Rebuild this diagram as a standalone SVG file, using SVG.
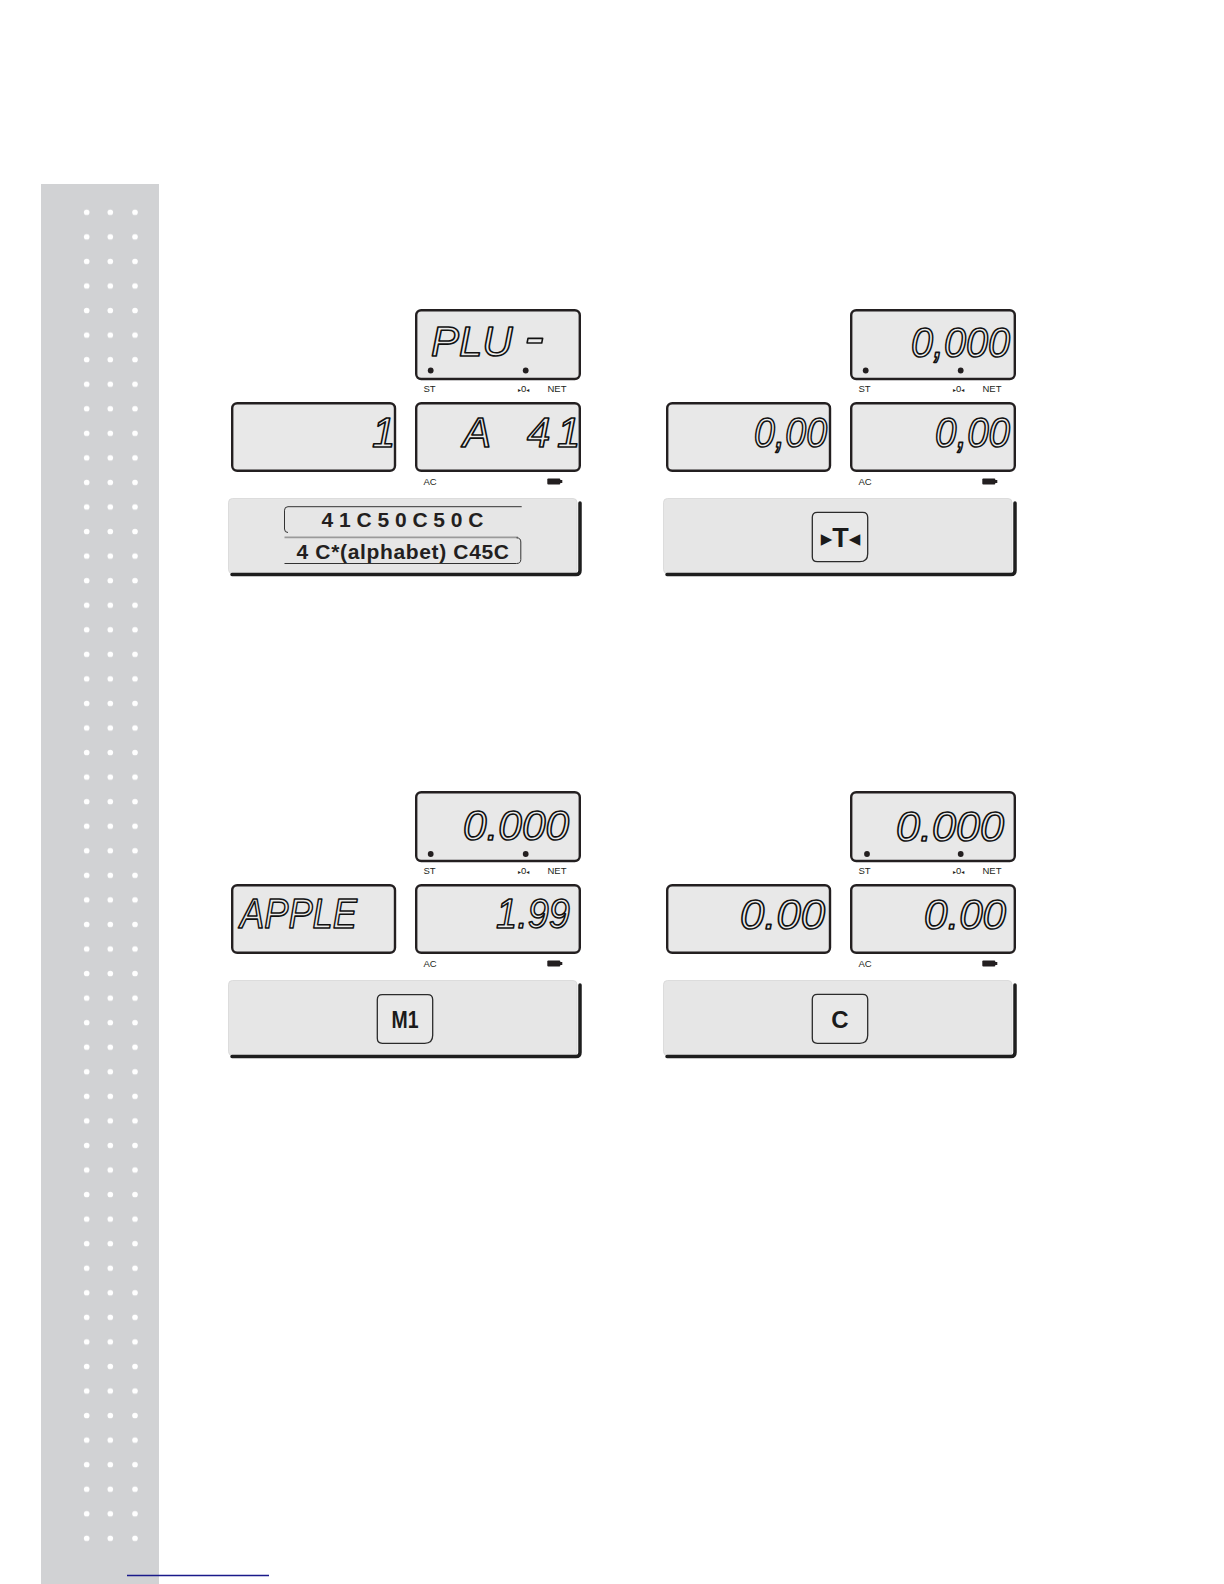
<svg xmlns="http://www.w3.org/2000/svg" width="1224" height="1584" viewBox="0 0 1224 1584">
<style>
.lcd{fill:#e8e8e8;stroke:#231f20;stroke-width:2.4}
.pin{fill:#231f20}
.lbl{font-family:"Liberation Sans",Arial,sans-serif;font-size:9.5px;fill:#231f20}
.seg{font-family:"Liberation Sans",Arial,sans-serif;font-style:italic;font-size:42px;fill:#ececec;stroke:#111111;stroke-width:1.6;stroke-linejoin:round}
.keypad{fill:#e6e6e6;stroke:#d6d6d6;stroke-width:0.8}
.shadow{fill:none;stroke:#1e1e1e;stroke-width:3.5;stroke-linecap:round;stroke-linejoin:round}
.btn{fill:#e8e8e8;stroke:#2b2b2b;stroke-width:1.3}
.key{font-family:"Liberation Sans",Arial,sans-serif;font-weight:bold;fill:#1a1a1a;text-anchor:middle}
.code{font-family:"Liberation Sans",Arial,sans-serif;font-weight:bold;font-size:21px;fill:#231f20}
.thin{fill:none;stroke:#333;stroke-width:1}
.tri{font-family:"DejaVu Sans",sans-serif}
</style>
<defs>
<pattern id="dots" patternUnits="userSpaceOnUse" x="74" y="200" width="73" height="24.556">
<circle cx="12.7" cy="12.3" r="2.8" fill="#ffffff"/>
<circle cx="36.3" cy="12.3" r="2.8" fill="#ffffff"/>
<circle cx="61" cy="12.3" r="2.8" fill="#ffffff"/>
</pattern>
</defs>
<rect width="1224" height="1584" fill="#ffffff"/>
<g id="sidebar">
<rect x="41" y="184" width="118" height="1400" fill="#d1d2d4"/>
<rect x="74" y="200" width="73" height="1350.6" fill="url(#dots)"/>
</g>
<line x1="127" y1="1575.5" x2="269" y2="1575.5" stroke="#1a1a8a" stroke-width="1.5"/>

<g id="step-plu">
<rect class="lcd" x="416.2" y="310.2" width="163.6" height="68.8" rx="5"/>
<rect class="lcd" x="232.2" y="403.2" width="162.8" height="67.6" rx="5"/>
<rect class="lcd" x="416.2" y="403.2" width="163.6" height="67.6" rx="5"/>
<circle class="pin" cx="430.7" cy="370.5" r="2.9"/>
<circle class="pin" cx="525.7" cy="370.5" r="2.9"/>
<text class="lbl" x="423.5" y="392">ST</text>
<text class="lbl" x="518" y="392"><tspan class="tri" font-size="6">▸</tspan>0<tspan class="tri" font-size="6">◂</tspan></text>
<text class="lbl" x="547.5" y="392">NET</text>
<text class="lbl" x="423.5" y="485">AC</text>
<rect class="pin" x="547.3" y="478.5" width="13" height="6" rx="1"/>
<rect class="pin" x="559.5" y="480" width="2.8" height="3"/>
<rect class="keypad" x="228.5" y="498.5" width="348.5" height="75" rx="4"/>
<path class="shadow" d="M232 574.5 H576 Q580 574.5 580 570.5 V503"/>
<text class="seg" x="431" y="356">PLU <tspan x="524" font-size="60">-</tspan></text>
<text class="seg" x="372" y="447">1</text>
<text class="seg" x="463" y="447">A <tspan x="527">4</tspan><tspan x="557">1</tspan></text>
<path class="thin" d="M521.7 506.7 H288 Q284.5 506.7 284.5 510.2 V529 Q284.5 532.5 288 532.5"/>
<path d="M284.5 537.3 H518" fill="none" stroke="#9a9a9a" stroke-width="1.8"/>
<path class="thin" d="M516.5 537.8 Q520.8 537.8 520.8 542 V559.5 Q520.8 563.5 516.5 563.5 H284.5"/>
<text class="code" x="321.5" y="526.7" letter-spacing="5.8">41C50C50C</text>
<text class="code" x="296.5" y="559.3" font-size="21.5" textLength="212.5">4 C*(alphabet) C45C</text>
</g>

<g id="step-tare" transform="translate(435,0)">
<rect class="lcd" x="416.2" y="310.2" width="163.6" height="68.8" rx="5"/>
<rect class="lcd" x="232.2" y="403.2" width="162.8" height="67.6" rx="5"/>
<rect class="lcd" x="416.2" y="403.2" width="163.6" height="67.6" rx="5"/>
<circle class="pin" cx="430.7" cy="370.5" r="2.9"/>
<circle class="pin" cx="525.7" cy="370.5" r="2.9"/>
<text class="lbl" x="423.5" y="392">ST</text>
<text class="lbl" x="518" y="392"><tspan class="tri" font-size="6">▸</tspan>0<tspan class="tri" font-size="6">◂</tspan></text>
<text class="lbl" x="547.5" y="392">NET</text>
<text class="lbl" x="423.5" y="485">AC</text>
<rect class="pin" x="547.3" y="478.5" width="13" height="6" rx="1"/>
<rect class="pin" x="559.5" y="480" width="2.8" height="3"/>
<rect class="keypad" x="228.5" y="498.5" width="348.5" height="75" rx="4"/>
<path class="shadow" d="M232 574.5 H576 Q580 574.5 580 570.5 V503"/>
<text class="seg" x="476" y="357" textLength="99" lengthAdjust="spacingAndGlyphs">0,000</text>
<text class="seg" x="319" y="447" textLength="73" lengthAdjust="spacingAndGlyphs">0,00</text>
<text class="seg" x="500" y="447" textLength="75" lengthAdjust="spacingAndGlyphs">0,00</text>
<path class="btn" d="M382.3 512.3 H427.7 Q432.7 512.3 432.7 517.3 V553.7 Q432.7 561.7 424.7 561.7 H382.3 Q377.3 561.7 377.3 556.7 V517.3 Q377.3 512.3 382.3 512.3 Z"/>
<text class="key" x="405.5" y="546.5" font-size="27"><tspan class="tri" font-size="23" dy="-1">▸</tspan><tspan dy="1">T</tspan><tspan class="tri" font-size="23" dy="-1">◂</tspan></text>
</g>

<g id="step-m1" transform="translate(0,482)">
<rect class="lcd" x="416.2" y="310.2" width="163.6" height="68.8" rx="5"/>
<rect class="lcd" x="232.2" y="403.2" width="162.8" height="67.6" rx="5"/>
<rect class="lcd" x="416.2" y="403.2" width="163.6" height="67.6" rx="5"/>
<circle class="pin" cx="430.7" cy="372" r="2.9"/>
<circle class="pin" cx="525.7" cy="372" r="2.9"/>
<text class="lbl" x="423.5" y="392">ST</text>
<text class="lbl" x="518" y="392"><tspan class="tri" font-size="6">▸</tspan>0<tspan class="tri" font-size="6">◂</tspan></text>
<text class="lbl" x="547.5" y="392">NET</text>
<text class="lbl" x="423.5" y="485">AC</text>
<rect class="pin" x="547.3" y="478.5" width="13" height="6" rx="1"/>
<rect class="pin" x="559.5" y="480" width="2.8" height="3"/>
<rect class="keypad" x="228.5" y="498.5" width="348.5" height="75" rx="4"/>
<path class="shadow" d="M232 574.5 H576 Q580 574.5 580 570.5 V503"/>
<text class="seg" x="463" y="358" textLength="106" lengthAdjust="spacingAndGlyphs">0.000</text>
<text class="seg" x="240" y="446" textLength="117" lengthAdjust="spacingAndGlyphs">APPLE</text>
<text class="seg" x="496" y="446" textLength="74" lengthAdjust="spacingAndGlyphs">1.99</text>
<path class="btn" d="M382.3 512.7 H427.7 Q432.7 512.7 432.7 517.7 V553.3 Q432.7 561.3 424.7 561.3 H382.3 Q377.3 561.3 377.3 556.3 V517.7 Q377.3 512.7 382.3 512.7 Z"/>
<text class="key" x="405" y="545.5" font-size="23" textLength="27" lengthAdjust="spacingAndGlyphs">M1</text>
</g>

<g id="step-clear" transform="translate(435,482)">
<rect class="lcd" x="416.2" y="310.2" width="163.6" height="68.8" rx="5"/>
<rect class="lcd" x="232.2" y="403.2" width="162.8" height="67.6" rx="5"/>
<rect class="lcd" x="416.2" y="403.2" width="163.6" height="67.6" rx="5"/>
<circle class="pin" cx="432" cy="372" r="2.9"/>
<circle class="pin" cx="525.7" cy="372" r="2.9"/>
<text class="lbl" x="423.5" y="392">ST</text>
<text class="lbl" x="518" y="392"><tspan class="tri" font-size="6">▸</tspan>0<tspan class="tri" font-size="6">◂</tspan></text>
<text class="lbl" x="547.5" y="392">NET</text>
<text class="lbl" x="423.5" y="485">AC</text>
<rect class="pin" x="547.3" y="478.5" width="13" height="6" rx="1"/>
<rect class="pin" x="559.5" y="480" width="2.8" height="3"/>
<rect class="keypad" x="228.5" y="498.5" width="348.5" height="75" rx="4"/>
<path class="shadow" d="M232 574.5 H576 Q580 574.5 580 570.5 V503"/>
<text class="seg" x="461" y="359" textLength="108" lengthAdjust="spacingAndGlyphs">0.000</text>
<text class="seg" x="305" y="447" textLength="85" lengthAdjust="spacingAndGlyphs">0.00</text>
<text class="seg" x="489" y="447" textLength="82" lengthAdjust="spacingAndGlyphs">0.00</text>
<path class="btn" d="M382.3 512.3 H427.7 Q432.7 512.3 432.7 517.3 V553.3 Q432.7 561.3 424.7 561.3 H382.3 Q377.3 561.3 377.3 556.3 V517.3 Q377.3 512.3 382.3 512.3 Z"/>
<text class="key" x="405" y="546" font-size="24">C</text>
</g>
</svg>
